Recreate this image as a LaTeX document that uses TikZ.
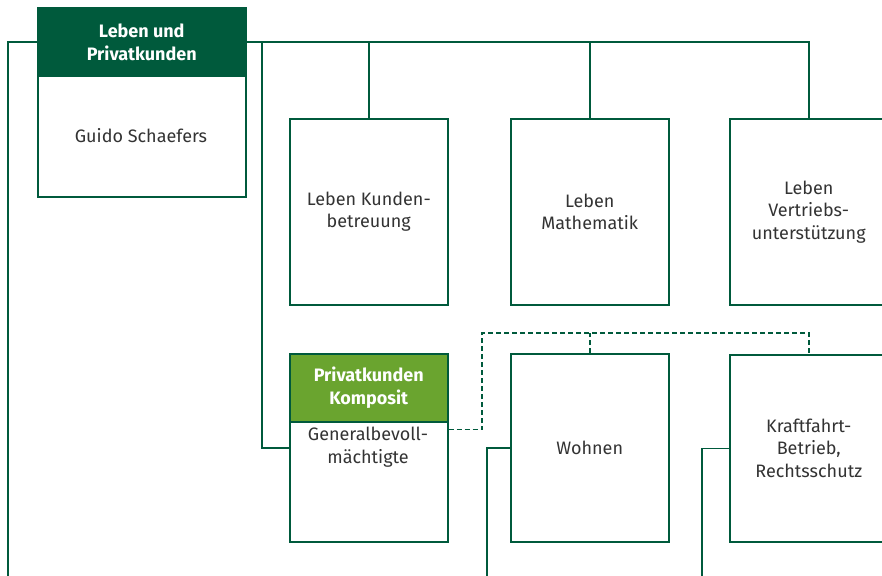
\documentclass[tikz,border=0pt]{standalone}
\usepackage{fontspec}
\setmainfont{Fira Sans}
\definecolor{dgreen}{HTML}{005A3C}
\definecolor{lgreen}{HTML}{6AA42F}
\definecolor{txtc}{HTML}{333333}
\begin{document}
\begin{tikzpicture}[x=1pt,y=-1pt,
  box/.style={draw=dgreen,line width=1.5pt,fill=white,minimum width=158pt,minimum height=186pt,inner sep=0pt,anchor=north west},
  hdr/.style={draw=dgreen,line width=1.5pt,inner sep=0pt,anchor=north,text=white,font=\fontsize{18}{22.5}\selectfont\bfseries,align=center},
  txt/.style={text=txtc,font=\fontsize{18}{22.5}\selectfont,align=center,inner sep=0pt},
  conn/.style={draw=dgreen,line width=1.5pt},
  dconn/.style={conn,dash pattern=on 5pt off 3pt}]
\useasboundingbox (0,0) rectangle (882,575);
\clip (0,0) rectangle (882,575);
% top box
\node[box,minimum width=208pt,minimum height=189pt] (lp) at (37,7) {};
\node[hdr,fill=dgreen,minimum width=208pt,minimum height=69pt] (lph) at (lp.north) {Leben und\\Privatkunden};
\node[txt] (lpt) at (141,136) {Guido Schaefers};
% row 1
\node[box] (kb) at (289,118) {};
\node[txt] at (kb.center) {Leben Kunden-\\betreuung};
\node[box] (ma) at (510,118) {};
\node[txt] at (ma.center) {Leben\\Mathematik};
\node[box] (vt) at (729,118) {};
\node[txt] at (vt.center) {Leben\\Vertriebs-\\unterstützung};
% row 2
\node[box,minimum height=188pt] (pk) at (289,353) {};
\node[hdr,fill=lgreen,minimum width=158pt,minimum height=68pt] (pkh) at (pk.north) {Privatkunden\\Komposit};
\node[txt,anchor=north] (pkt) at (368,427) {Generalbevoll-\\mächtigte};
\node[box,minimum height=188pt] (wo) at (510,353) {};
\node[txt] at (wo.center) {Wohnen};
\node[box,minimum height=187pt] (kr) at (729,354) {};
\node[txt] at (kr.center) {Kraftfahrt-\\Betrieb,\\Rechtsschutz};
% free ends
\coordinate (e1) at (8,580);
\coordinate (j1) at (262,41.5);
\coordinate (d1) at (482,333);
\coordinate (e2) at (487,580);
\coordinate (e3) at (702,580);
% connectors
\draw[conn] (lph.west) -| (e1);
\draw[conn] (lph.east) -| (vt.north);
\draw[conn] (kb.north) -- (kb.north |- lph.east);
\draw[conn] (ma.north) -- (ma.north |- lph.east);
\draw[conn] (j1) |- (pk.west);
\draw[dconn] ([yshift=-7pt]pkh.south east) -| (d1) -| (kr.north);
\draw[dconn] (wo.north) -- (wo.north |- d1);
\draw[conn] (wo.west) -| (e2);
\draw[conn] (kr.west) -| (e3);
\end{tikzpicture}
\end{document}
